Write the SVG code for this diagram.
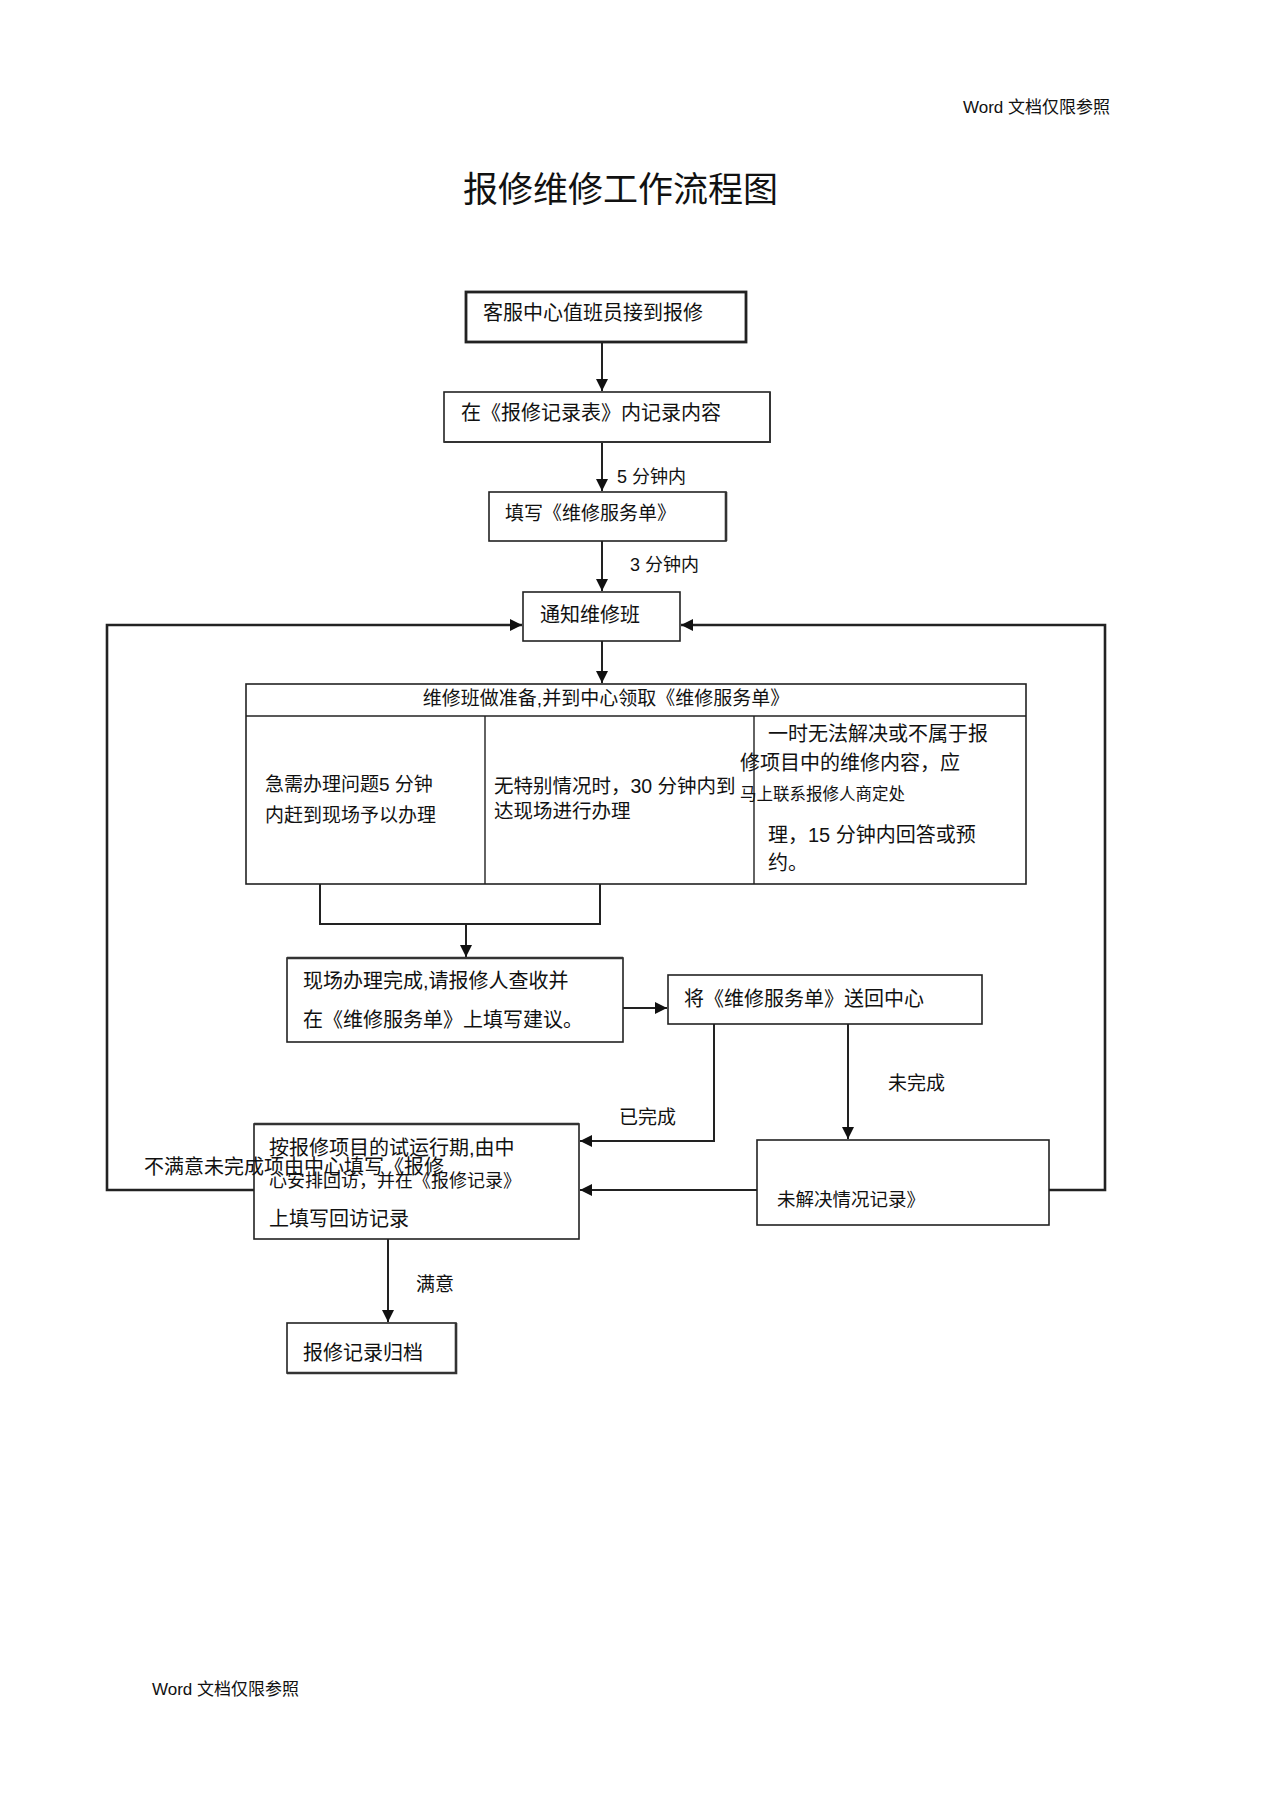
<svg xmlns="http://www.w3.org/2000/svg" width="1274" height="1804" viewBox="0 0 1274 1804">
<style>
text{font-family:"Liberation Sans","Noto Sans CJK SC",sans-serif;fill:#111;font-size:20px}
.box{fill:#fff;stroke:#222;stroke-width:1.6}
.thick{stroke-width:2.8}
.edge{stroke:#333;stroke-width:2.6;fill:none}
.con{fill:none;stroke:#222;stroke-width:2}
.loop{fill:none;stroke:#222;stroke-width:2.6}
.hdr{font-size:17px}
</style>
<defs>
<marker id="ah" markerUnits="userSpaceOnUse" markerWidth="12" markerHeight="12" viewBox="0 0 12 12" refX="12" refY="6" orient="auto">
<path d="M0,0 L12,6 L0,12 z" fill="#111"/>
</marker>
</defs>
<rect width="1274" height="1804" fill="#fff"/>
<text class="hdr" x="963" y="113">Word 文档仅限参照</text>
<text class="hdr" x="152" y="1695">Word 文档仅限参照</text>
<text x="463" y="202" style="font-size:35px">报修维修工作流程图</text>

<g id="connectors">
<path class="con" d="M602,342 V391" marker-end="url(#ah)"/>
<path class="con" d="M602,442 V491" marker-end="url(#ah)"/>
<path class="con" d="M602,541 V591" marker-end="url(#ah)"/>
<path class="con" d="M602,641 V683" marker-end="url(#ah)"/>
<path class="loop" d="M254,1190 H107 V625 H522" marker-end="url(#ah)"/>
<path class="loop" d="M1049,1190 H1105 V625 H681" marker-end="url(#ah)"/>
<path class="con" d="M320,884 V924 H600 V884"/>
<path class="con" d="M466,924 V957" marker-end="url(#ah)"/>
<path class="con" d="M623,1008 H667" marker-end="url(#ah)"/>
<path class="con" d="M714,1024 V1141 H580" marker-end="url(#ah)"/>
<path class="con" d="M848,1024 V1139" marker-end="url(#ah)"/>
<path class="con" d="M757,1190 H580" marker-end="url(#ah)"/>
<path class="con" d="M388,1239 V1322" marker-end="url(#ah)"/>
<text x="617" y="483" style="font-size:18px">5 分钟内</text>
<text x="630" y="571" style="font-size:18px">3 分钟内</text>
<text x="619" y="1124" style="font-size:19px">已完成</text>
<text x="888" y="1090" style="font-size:19px">未完成</text>
<text x="416" y="1291" style="font-size:19px">满意</text>
</g>

<g id="n1">
<rect class="box thick" x="466" y="292" width="280" height="50"/>
<text x="483" y="320">客服中心值班员接到报修</text>
</g>
<g id="n2">
<rect class="box" x="444" y="392" width="326" height="50"/>
<path class="edge" d="M444,442 H770 V392" style="stroke-width:1.8"/>
<text x="461" y="420">在《报修记录表》内记录内容</text>
</g>
<g id="n3">
<rect class="box" x="489" y="492" width="237" height="49"/>
<path class="edge" d="M726,492 V541"/>
<text x="505" y="520" style="font-size:19px">填写《维修服务单》</text>
</g>
<g id="n4">
<rect class="box" x="523" y="592" width="157" height="49"/>
<text x="540" y="622">通知维修班</text>
</g>
<g id="n5">
<rect class="box" x="246" y="684" width="780" height="200"/>
<line x1="246" y1="716" x2="1026" y2="716" stroke="#222" stroke-width="1.6"/>
<line x1="485" y1="716" x2="485" y2="884" stroke="#222" stroke-width="1.4"/>
<line x1="754" y1="716" x2="754" y2="884" stroke="#222" stroke-width="1.4"/>
<text x="606" y="705" text-anchor="middle" style="font-size:19px">维修班做准备,并到中心领取《维修服务单》</text>
<text x="265" y="791" style="font-size:19px">急需办理问题5 分钟</text>
<text x="265" y="822" style="font-size:19px">内赶到现场予以办理</text>
<text x="494" y="793" style="font-size:19.5px">无特别情况时，30 分钟内到</text>
<text x="494" y="818" style="font-size:19.5px">达现场进行办理</text>
<text x="768" y="741">一时无法解决或不属于报</text>
<text x="740" y="770">修项目中的维修内容，应</text>
<text x="740" y="800" style="font-size:16.5px">马上联系报修人商定处</text>
<text x="768" y="842">理，15 分钟内回答或预</text>
<text x="768" y="870">约。</text>
</g>
<g id="n6">
<rect class="box" x="287" y="958" width="336" height="84"/>
<path class="edge" d="M287,958 H623"/>
<text x="303" y="988">现场办理完成,请报修人查收并</text>
<text x="303" y="1027">在《维修服务单》上填写建议。</text>
</g>
<g id="n7">
<rect class="box" x="668" y="975" width="314" height="49"/>
<text x="684" y="1006">将《维修服务单》送回中心</text>
</g>
<g id="n8">
<rect class="box" x="254" y="1124" width="325" height="115"/>
<path class="edge" d="M254,1124 H579"/>
<text x="269" y="1155">按报修项目的试运行期,由中</text>
<text x="269" y="1187" style="font-size:18px">心安排回访，并在《报修记录》</text>
<text x="269" y="1226">上填写回访记录</text>
</g>
<g id="n9">
<rect class="box" x="757" y="1140" width="292" height="85"/>
<text x="777" y="1206" style="font-size:18.5px">未解决情况记录》</text>
</g>
<g id="n10">
<rect class="box" x="287" y="1323" width="169" height="50"/>
<path class="edge" d="M456,1323 V1373 H287"/>
<text x="303" y="1360">报修记录归档</text>
</g>
<text x="144" y="1174">不满意未完成项由中心填写《报修</text>
</svg>
